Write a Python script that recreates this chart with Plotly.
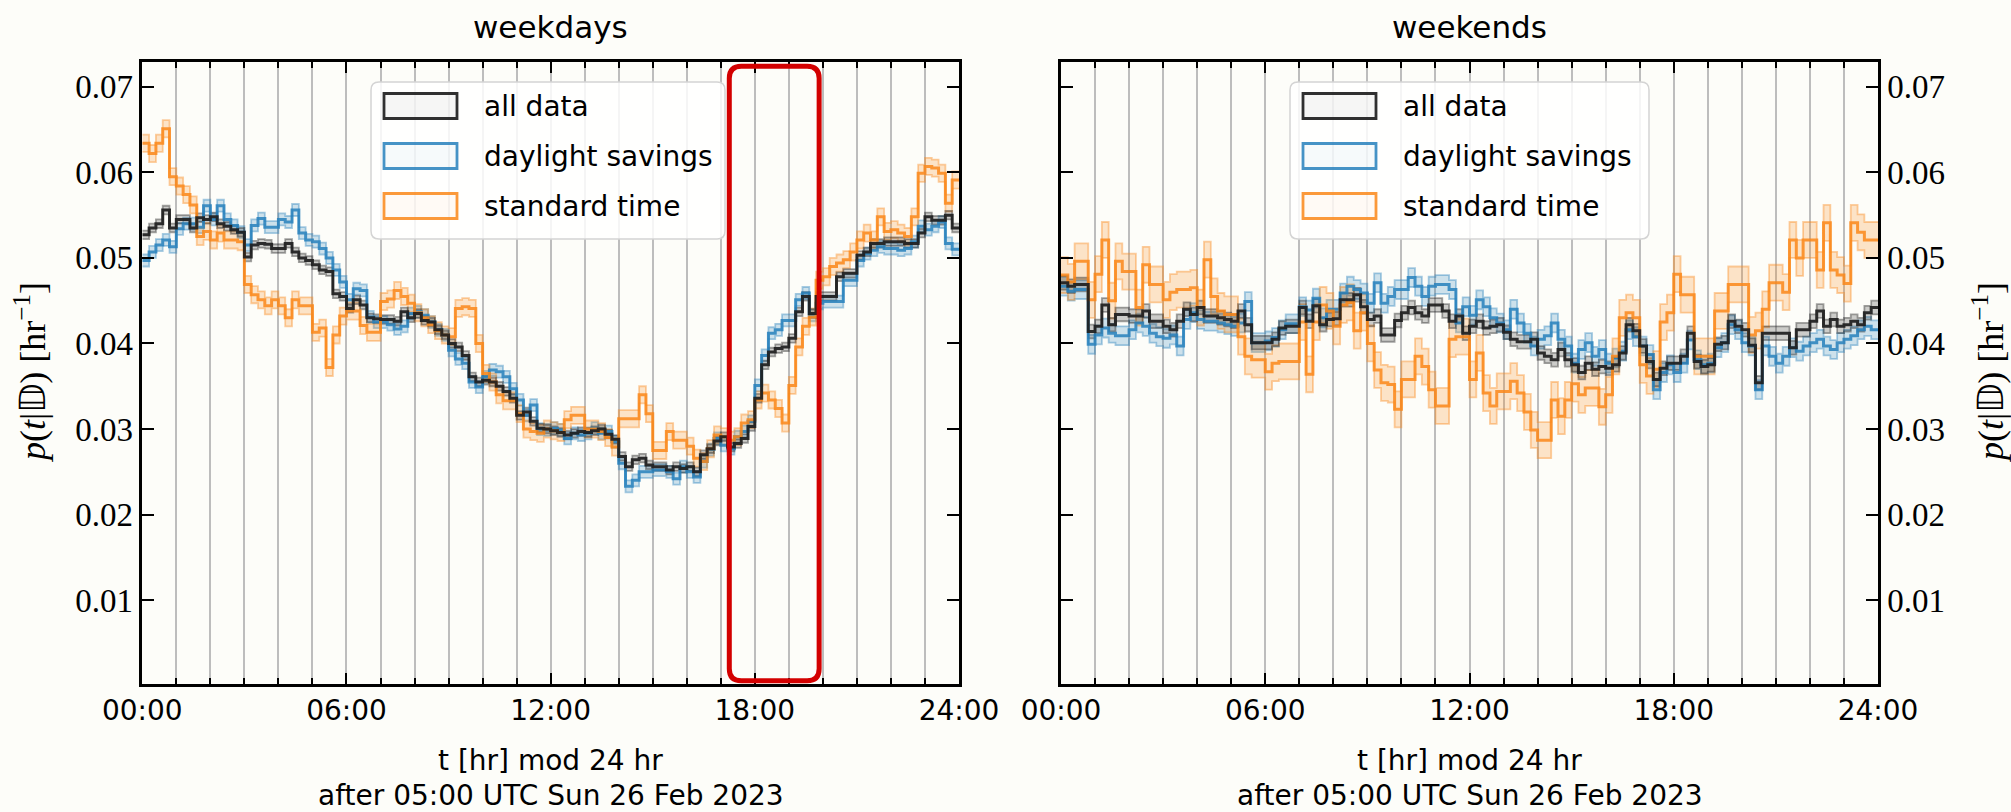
import numpy as np
import plotly.graph_objects as go

# ---- data: hourly-profile probability density, 12-minute bins (5 per hour) ----
BIN_WIDTH_HR = 0.2
HOUR_TICKS = [0, 6, 12, 18, 24]
HOUR_LABELS = ["00:00", "06:00", "12:00", "18:00", "24:00"]
Y_TICKS = [0.01, 0.02, 0.03, 0.04, 0.05, 0.06, 0.07]
Y_LABELS = ["0.01", "0.02", "0.03", "0.04", "0.05", "0.06", "0.07"]

weekday_all = [
    0.0527, 0.0535, 0.0540, 0.0556, 0.0535,
    0.0545, 0.0545, 0.0535, 0.0547, 0.0545,
    0.0548, 0.0540, 0.0537, 0.0533, 0.0530,
    0.0501, 0.0515, 0.0517, 0.0516, 0.0511,
    0.0511, 0.0517, 0.0507, 0.0500, 0.0497,
    0.0492, 0.0486, 0.0484, 0.0458, 0.0455,
    0.0441, 0.0451, 0.0445, 0.0430, 0.0429,
    0.0428, 0.0428, 0.0426, 0.0437, 0.0430,
    0.0435, 0.0427, 0.0425, 0.0416, 0.0410,
    0.0400, 0.0396, 0.0386, 0.0361, 0.0355,
    0.0357, 0.0355, 0.0350, 0.0344, 0.0336,
    0.0316, 0.0320, 0.0309, 0.0301, 0.0300,
    0.0298, 0.0296, 0.0293, 0.0295, 0.0297,
    0.0296, 0.0298, 0.0300, 0.0294, 0.0288,
    0.0268, 0.0256, 0.0264, 0.0266, 0.0258,
    0.0256, 0.0256, 0.0252, 0.0256, 0.0254,
    0.0256, 0.0250, 0.0270, 0.0277, 0.0286,
    0.0291, 0.0279, 0.0283, 0.0289, 0.0303,
    0.0336, 0.0375, 0.0390, 0.0394, 0.0396,
    0.0406, 0.0437, 0.0455, 0.0435, 0.0455,
    0.0455, 0.0455, 0.0478, 0.0482, 0.0482,
    0.0503, 0.0507, 0.0517, 0.0517, 0.0519,
    0.0519, 0.0519, 0.0517, 0.0517, 0.0529,
    0.0548, 0.0544, 0.0544, 0.0550, 0.0535,
]
weekday_dst = [
    0.0497, 0.0507, 0.0515, 0.0521, 0.0513,
    0.0534, 0.0540, 0.0540, 0.0536, 0.0561,
    0.0545, 0.0561, 0.0545, 0.0538, 0.0530,
    0.0515, 0.0538, 0.0546, 0.0536, 0.0536,
    0.0545, 0.0542, 0.0556, 0.0529, 0.0521,
    0.0519, 0.0511, 0.0500, 0.0486, 0.0472,
    0.0451, 0.0464, 0.0462, 0.0431, 0.0425,
    0.0425, 0.0422, 0.0417, 0.0420, 0.0435,
    0.0437, 0.0433, 0.0425, 0.0416, 0.0410,
    0.0392, 0.0382, 0.0377, 0.0355, 0.0349,
    0.0361, 0.0369, 0.0367, 0.0361, 0.0347,
    0.0334, 0.0316, 0.0328, 0.0300, 0.0299,
    0.0301, 0.0299, 0.0289, 0.0295, 0.0293,
    0.0295, 0.0301, 0.0295, 0.0297, 0.0285,
    0.0260, 0.0233, 0.0240, 0.0250, 0.0250,
    0.0252, 0.0252, 0.0250, 0.0242, 0.0256,
    0.0250, 0.0244, 0.0262, 0.0276, 0.0289,
    0.0281, 0.0277, 0.0291, 0.0297, 0.0309,
    0.0351, 0.0386, 0.0412, 0.0416, 0.0427,
    0.0427, 0.0451, 0.0459, 0.0433, 0.0447,
    0.0449, 0.0449, 0.0449, 0.0474, 0.0474,
    0.0497, 0.0505, 0.0509, 0.0513, 0.0511,
    0.0511, 0.0509, 0.0511, 0.0519, 0.0537,
    0.0533, 0.0537, 0.0542, 0.0517, 0.0510,
]
weekday_std = [
    0.0634, 0.0622, 0.0634, 0.0651, 0.0595,
    0.0584, 0.0574, 0.0562, 0.0525, 0.0531,
    0.0521, 0.0529, 0.0521, 0.0521, 0.0519,
    0.0469, 0.0457, 0.0451, 0.0444, 0.0451,
    0.0444, 0.0430, 0.0451, 0.0444, 0.0444,
    0.0413, 0.0418, 0.0372, 0.0410, 0.0432,
    0.0438, 0.0438, 0.0421, 0.0413, 0.0413,
    0.0449, 0.0452, 0.0462, 0.0455, 0.0447,
    0.0436, 0.0430, 0.0422, 0.0415, 0.0410,
    0.0408, 0.0441, 0.0443, 0.0441, 0.0400,
    0.0365, 0.0355, 0.0340, 0.0333, 0.0333,
    0.0318, 0.0300, 0.0297, 0.0295, 0.0300,
    0.0298, 0.0296, 0.0311, 0.0316, 0.0316,
    0.0300, 0.0300, 0.0297, 0.0290, 0.0279,
    0.0312, 0.0312, 0.0312, 0.0340, 0.0318,
    0.0275, 0.0275, 0.0297, 0.0287, 0.0287,
    0.0280, 0.0266, 0.0262, 0.0277, 0.0293,
    0.0291, 0.0287, 0.0291, 0.0307, 0.0311,
    0.0334, 0.0342, 0.0334, 0.0324, 0.0307,
    0.0351, 0.0396, 0.0420, 0.0431, 0.0474,
    0.0478, 0.0490, 0.0494, 0.0498, 0.0507,
    0.0521, 0.0529, 0.0521, 0.0548, 0.0531,
    0.0533, 0.0529, 0.0525, 0.0548, 0.0599,
    0.0607, 0.0605, 0.0599, 0.0564, 0.0591,
]
weekend_all = [
    0.0471, 0.0467, 0.0469, 0.0469, 0.0414,
    0.0420, 0.0445, 0.0422, 0.0434, 0.0434,
    0.0432, 0.0432, 0.0438, 0.0426, 0.0426,
    0.0420, 0.0416, 0.0426, 0.0440, 0.0434,
    0.0442, 0.0432, 0.0432, 0.0430, 0.0428,
    0.0426, 0.0438, 0.0422, 0.0401, 0.0401,
    0.0401, 0.0405, 0.0418, 0.0420, 0.0420,
    0.0442, 0.0426, 0.0444, 0.0422, 0.0428,
    0.0429, 0.0451, 0.0451, 0.0457, 0.0443,
    0.0428, 0.0432, 0.0410, 0.0410, 0.0427,
    0.0436, 0.0442, 0.0436, 0.0432, 0.0445,
    0.0445, 0.0438, 0.0426, 0.0432, 0.0412,
    0.0420, 0.0426, 0.0418, 0.0420, 0.0422,
    0.0413, 0.0405, 0.0402, 0.0402, 0.0405,
    0.0389, 0.0385, 0.0381, 0.0393, 0.0381,
    0.0375, 0.0366, 0.0377, 0.0370, 0.0373,
    0.0371, 0.0375, 0.0389, 0.0422, 0.0415,
    0.0397, 0.0379, 0.0358, 0.0371, 0.0377,
    0.0377, 0.0385, 0.0412, 0.0379, 0.0373,
    0.0375, 0.0399, 0.0401, 0.0426, 0.0420,
    0.0416, 0.0398, 0.0354, 0.0412, 0.0412,
    0.0412, 0.0412, 0.0395, 0.0416, 0.0416,
    0.0426, 0.0438, 0.0420, 0.0428, 0.0420,
    0.0422, 0.0426, 0.0422, 0.0436, 0.0442,
]
weekend_dst = [
    0.0467, 0.0461, 0.0463, 0.0463, 0.0399,
    0.0410, 0.0418, 0.0412, 0.0409, 0.0409,
    0.0416, 0.0424, 0.0420, 0.0412, 0.0408,
    0.0406, 0.0410, 0.0397, 0.0428, 0.0436,
    0.0428, 0.0426, 0.0426, 0.0424, 0.0422,
    0.0420, 0.0424, 0.0449, 0.0401, 0.0401,
    0.0403, 0.0407, 0.0416, 0.0423, 0.0423,
    0.0443, 0.0439, 0.0453, 0.0430, 0.0440,
    0.0440, 0.0459, 0.0467, 0.0463, 0.0459,
    0.0447, 0.0471, 0.0447, 0.0455, 0.0463,
    0.0463, 0.0477, 0.0467, 0.0455, 0.0467,
    0.0469, 0.0469, 0.0463, 0.0424, 0.0443,
    0.0433, 0.0451, 0.0443, 0.0430, 0.0424,
    0.0416, 0.0440, 0.0424, 0.0412, 0.0397,
    0.0405, 0.0409, 0.0424, 0.0405, 0.0397,
    0.0377, 0.0393, 0.0401, 0.0385, 0.0393,
    0.0377, 0.0383, 0.0391, 0.0416, 0.0408,
    0.0397, 0.0387, 0.0346, 0.0366, 0.0375,
    0.0366, 0.0377, 0.0404, 0.0381, 0.0375,
    0.0377, 0.0395, 0.0401, 0.0422, 0.0416,
    0.0401, 0.0397, 0.0346, 0.0397, 0.0385,
    0.0377, 0.0385, 0.0395, 0.0391, 0.0397,
    0.0401, 0.0405, 0.0397, 0.0393, 0.0401,
    0.0405, 0.0409, 0.0416, 0.0420, 0.0416,
]
weekend_std = [
    0.0480, 0.0472, 0.0496, 0.0496, 0.0451,
    0.0481, 0.0521, 0.0450, 0.0496, 0.0484,
    0.0484, 0.0442, 0.0492, 0.0469, 0.0469,
    0.0451, 0.0460, 0.0463, 0.0463, 0.0465,
    0.0442, 0.0498, 0.0455, 0.0438, 0.0434,
    0.0434, 0.0408, 0.0385, 0.0381, 0.0381,
    0.0367, 0.0377, 0.0379, 0.0379, 0.0379,
    0.0425, 0.0364, 0.0425, 0.0445, 0.0438,
    0.0420, 0.0445, 0.0448, 0.0415, 0.0436,
    0.0400, 0.0369, 0.0354, 0.0352, 0.0323,
    0.0358, 0.0358, 0.0385, 0.0373, 0.0346,
    0.0327, 0.0327, 0.0405, 0.0408, 0.0408,
    0.0358, 0.0389, 0.0342, 0.0327, 0.0344,
    0.0344, 0.0356, 0.0342, 0.0320, 0.0299,
    0.0287, 0.0287, 0.0334, 0.0315, 0.0334,
    0.0353, 0.0340, 0.0348, 0.0348, 0.0326,
    0.0340, 0.0385, 0.0430, 0.0436, 0.0430,
    0.0375, 0.0362, 0.0370, 0.0425, 0.0436,
    0.0481, 0.0457, 0.0457, 0.0385, 0.0385,
    0.0385, 0.0438, 0.0438, 0.0469, 0.0469,
    0.0469, 0.0410, 0.0415, 0.0440, 0.0471,
    0.0471, 0.0460, 0.0521, 0.0500, 0.0521,
    0.0521, 0.0486, 0.0541, 0.0486, 0.0480,
    0.0470, 0.0541, 0.0530, 0.0521, 0.0521,
]

# half-width of the uncertainty band for each series
weekday_err = {"all": 0.0005, "dst": 0.0007, "std": 0.0010}
weekend_err = {"all": 0.0008, "dst": 0.0011, "std": 0.0021}

SERIES_NAMES = ["all data", "daylight savings", "standard time"]

# ---- styling ----
W, H = 2011, 812
BG = "#fdfdf9"
GRID = "#bdbdbd"
COLORS = {
    "all": (30, 30, 30),
    "dst": (38, 128, 188),
    "std": (250, 135, 25),
}
LINE_ALPHA = {"all": 0.92, "dst": 0.85, "std": 0.85}
SANS = "DejaVu Sans"
SERIF = "Liberation Serif"

# panel rectangles in pixels (left, right), shared top/bottom
PANELS = [(142.3, 959.0), (1061.0, 1878.0)]
TOP, BOTTOM = 62.0, 684.0
Y_RANGE = [0.0002, 0.0729]


def px_x(p):
    return p / W


def px_y(p):
    return 1 - p / H


def rgba(c, a):
    return f"rgba({c[0]},{c[1]},{c[2]},{a})"


def rounded_path(x0, y0, x1, y1, rx, ry):
    return (f"M{x0 + rx},{y0} L{x1 - rx},{y0} Q{x1},{y0} {x1},{y0 + ry} "
            f"L{x1},{y1 - ry} Q{x1},{y1} {x1 - rx},{y1} L{x0 + rx},{y1} "
            f"Q{x0},{y1} {x0},{y1 - ry} L{x0},{y0 + ry} Q{x0},{y0} {x0 + rx},{y0} Z")


edges = np.arange(len(weekday_all) + 1) * BIN_WIDTH_HR

fig = go.Figure()


def add_series(values, err, color, xa, ya):
    v = np.asarray(values + [values[-1]])
    lo, hi = v - err, v + err
    common = dict(x=edges, xaxis=xa, yaxis=ya, mode="lines", showlegend=False,
                  hoverinfo="skip")
    edge_line = dict(color=rgba(color, 0.4), width=1.8, shape="hv")
    fig.add_trace(go.Scatter(y=lo, line=edge_line, **common))
    fig.add_trace(go.Scatter(y=hi, fill="tonexty", fillcolor=rgba(color, 0.22),
                             line=edge_line, **common))


def add_line(values, color, alpha, xa, ya):
    v = np.asarray(values + [values[-1]])
    fig.add_trace(go.Scatter(x=edges, y=v, xaxis=xa, yaxis=ya, mode="lines",
                             showlegend=False, hoverinfo="skip",
                             line=dict(color=rgba(color, alpha), width=3, shape="hv")))


panel_data = [
    ("x", "y", {"dst": weekday_dst, "std": weekday_std, "all": weekday_all}, weekday_err),
    ("x2", "y2", {"dst": weekend_dst, "std": weekend_std, "all": weekend_all}, weekend_err),
]
for xa, ya, series, errs in panel_data:
    for key in ["dst", "std", "all"]:
        add_series(series[key], errs[key], COLORS[key], xa, ya)
    for key in ["dst", "std", "all"]:
        add_line(series[key], COLORS[key], LINE_ALPHA[key], xa, ya)

xaxis_common = dict(
    range=[0, 24], tickmode="array", tickvals=HOUR_TICKS, ticktext=HOUR_LABELS,
    ticks="inside", ticklen=11, tickwidth=2, tickcolor="black",
    showline=True, linewidth=2.5, linecolor="black", mirror="allticks",
    showgrid=True, gridcolor=GRID, gridwidth=1.6, zeroline=False, automargin=False,
    minor=dict(dtick=1, tick0=0, ticks="inside", ticklen=6, tickwidth=1.5,
               tickcolor="black", showgrid=True, gridcolor=GRID, gridwidth=1.6),
    tickfont=dict(family=SANS, size=28, color="black"),
)
yaxis_common = dict(
    range=Y_RANGE, tickmode="array", tickvals=Y_TICKS, ticktext=Y_LABELS,
    ticks="inside", ticklen=12, tickwidth=2, tickcolor="black",
    showline=True, linewidth=2.5, linecolor="black", mirror="allticks",
    showgrid=False, zeroline=False, automargin=False,
    tickfont=dict(family=SERIF, size=33, color="black"),
)

y_domain = [px_y(BOTTOM), px_y(TOP)]
fig.update_layout(
    template="none",
    width=W, height=H, margin=dict(l=0, r=0, t=0, b=0, pad=0),
    paper_bgcolor=BG, plot_bgcolor=BG, showlegend=False,
    xaxis=dict(domain=[px_x(PANELS[0][0]), px_x(PANELS[0][1])], anchor="y", **xaxis_common),
    yaxis=dict(domain=y_domain, anchor="x", side="left", **yaxis_common),
    xaxis2=dict(domain=[px_x(PANELS[1][0]), px_x(PANELS[1][1])], anchor="y2", **xaxis_common),
    yaxis2=dict(domain=y_domain, anchor="x2", side="right", **yaxis_common),
)

annotations = []
shapes = []
titles = ["weekdays", "weekends"]
ylabel = "<i>p</i>(<i>t</i>|𝔻) [hr<sup>−1</sup>]"
for i, (l, r) in enumerate(PANELS):
    cx = px_x((l + r) / 2)
    annotations.append(dict(text=titles[i], x=cx, y=px_y(27), xref="paper", yref="paper",
                            showarrow=False, xanchor="center", yanchor="middle",
                            font=dict(family=SANS, size=31, color="black")))
    annotations.append(dict(text="t [hr] mod 24 hr", x=cx, y=px_y(760), xref="paper", yref="paper",
                            showarrow=False, xanchor="center", yanchor="middle",
                            font=dict(family=SANS, size=28, color="black")))
    annotations.append(dict(text="after 05:00 UTC Sun 26 Feb 2023", x=cx, y=px_y(795),
                            xref="paper", yref="paper", showarrow=False,
                            xanchor="center", yanchor="middle",
                            font=dict(family=SANS, size=28, color="black")))

for xpix in [30, 1988]:
    annotations.append(dict(text=ylabel, x=px_x(xpix), y=px_y((TOP + BOTTOM) / 2),
                            xref="paper", yref="paper", showarrow=False, textangle=-90,
                            xanchor="center", yanchor="middle",
                            font=dict(family=SERIF, size=36, color="black")))

# legends drawn per panel
legend_boxes = [(371, 725), (1290, 1649)]
LEG_TOP, LEG_BOT = 82, 239
ROWS = [106, 156, 206]
for bl, br in legend_boxes:
    shapes.append(dict(type="path", xref="paper", yref="paper", layer="above",
                       path=rounded_path(px_x(bl), px_y(LEG_BOT), px_x(br), px_y(LEG_TOP),
                                         8 / W, 8 / H),
                       fillcolor="rgba(255,255,255,0.85)",
                       line=dict(color="#d4d4d4", width=1.5)))
    for key, name, row in zip(["all", "dst", "std"], SERIES_NAMES, ROWS):
        shapes.append(dict(type="rect", xref="paper", yref="paper", layer="above",
                           x0=px_x(bl + 13), x1=px_x(bl + 86),
                           y0=px_y(row + 12.5), y1=px_y(row - 12.5),
                           fillcolor=rgba(COLORS[key], 0.04),
                           line=dict(color=rgba(COLORS[key], LINE_ALPHA[key]), width=2.8)))
        annotations.append(dict(text=name, x=px_x(bl + 111), y=px_y(row), xref="paper",
                                yref="paper", showarrow=False, xanchor="left",
                                yanchor="middle",
                                font=dict(family=SANS, size=28, color="black")))

# highlighted evening window on the weekday panel
hx0, hx1 = 17.25, 19.89
hy0, hy1 = 0.00058, 0.0724
rx = 12 / ((PANELS[0][1] - PANELS[0][0]) / 24)
ry = 12 / ((BOTTOM - TOP) / (Y_RANGE[1] - Y_RANGE[0]))
shapes.append(dict(type="path", xref="x", yref="y", layer="above",
                   path=rounded_path(hx0, hy0, hx1, hy1, rx, ry),
                   line=dict(color="#d30000", width=5)))

fig.update_layout(annotations=annotations, shapes=shapes)
fig.write_html("out.html")
